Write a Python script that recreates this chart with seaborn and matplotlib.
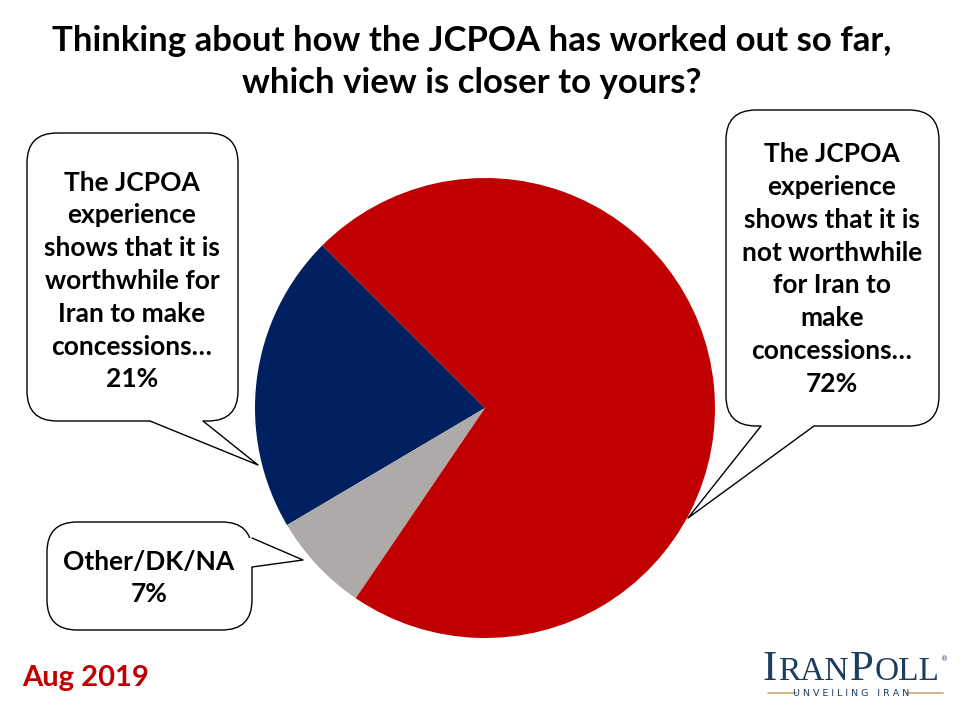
import matplotlib
matplotlib.use("Agg")
import matplotlib.pyplot as plt
import seaborn as sns
from matplotlib.patches import FancyBboxPatch, Polygon
from matplotlib.lines import Line2D

# ---- data ----
categories = ["worthwhile", "Other/DK/NA", "not worthwhile"]
values = [21, 7, 72]
colors = ["#002060", "#AEAAAA", "#C00000"]
label_worthwhile = "The JCPOA\nexperience\nshows that it is\nworthwhile for\nIran to make\nconcessions…\n21%"
label_not = "The JCPOA\nexperience\nshows that it is\nnot worthwhile\nfor Iran to\nmake\nconcessions…\n72%"
label_other = "Other/DK/NA\n7%"
title = "Thinking about how the JCPOA has worked out so far,\nwhich view is closer to yours?"
date_text = "Aug 2019"

sns.set_theme(style="white")
plt.rcParams['font.family'] = ['Lato', 'DejaVu Sans']

fig = plt.figure(figsize=(9.6, 7.2), dpi=100)
fig.patch.set_facecolor("white")

# pie axes: center (485,408) px, radius 230 px
cx, cy, r = 485, 408, 230
pax = fig.add_axes([(cx - r) / 960, (720 - (cy + r)) / 720, 2 * r / 960, 2 * r / 720])
pal = sns.color_palette(colors)
pax.pie(values, colors=pal, startangle=135, counterclock=True,
        wedgeprops=dict(edgecolor="none", linewidth=0))
pax.set_xlim(-1, 1)
pax.set_ylim(-1, 1)
pax.set_aspect("equal")
pax.axis("off")

# overlay in pixel coords (top-left origin)
ov = fig.add_axes([0, 0, 1, 1], zorder=5)
ov.set_xlim(0, 960)
ov.set_ylim(720, 0)
ov.axis("off")
ov.patch.set_alpha(0)


def callout(x0, y0, x1, y1, base1, tip, base2, inward, rad=30):
    box = FancyBboxPatch((x0, y0), x1 - x0, y1 - y0,
                         boxstyle=f"round,pad=0,rounding_size={rad}",
                         facecolor="white", edgecolor="black", linewidth=1.0, zorder=2)
    ov.add_patch(box)
    dx, dy = inward
    pts = [(base1[0] + dx, base1[1] + dy), base1, tip, base2, (base2[0] + dx, base2[1] + dy)]
    ov.add_patch(Polygon(pts, closed=True, facecolor="white", edgecolor="none", zorder=3))
    ov.add_line(Line2D([base1[0], tip[0], base2[0]], [base1[1], tip[1], base2[1]],
                       color="black", linewidth=1.0, zorder=4))


callout(27, 133, 238, 421, (150, 421), (258, 465), (203, 421), (0, -3))
callout(726, 110, 939, 426, (761, 426), (688, 518), (814, 426), (0, -3))
callout(47, 522, 252, 630, (252, 538), (303, 560), (252, 567), (-3, 0))

txt_kw = dict(ha="center", va="center", fontsize=19, fontweight="bold",
              color="black", linespacing=1.44, zorder=6)
ov.text(132, 281, label_worthwhile, **txt_kw)
ov.text(832, 269, label_not, **txt_kw)
ov.text(149, 578, label_other, **txt_kw)

# title
ov.text(472, 62, title, ha="center", va="center", fontsize=25, fontweight="bold",
        color="black", linespacing=1.35)

# date
ov.text(22, 678, date_text, ha="left", va="center", fontsize=21, fontweight="bold",
        color="#C00000")

# logo
logo_color = "#1B3D5E"
fig.canvas.draw()
rend = fig.canvas.get_renderer()
x = 763
base_y = 680
parts = [("I", 31), ("RAN", 24), ("P", 31), ("OLL", 24)]
for s, fs in parts:
    t = ov.text(x, base_y, s, ha="left", va="baseline", fontsize=fs,
                family="Liberation Serif", color=logo_color)
    w = t.get_window_extent(rend).width
    x += w + 1
ov.text(x + 1, 659, "®", ha="left", va="center", fontsize=5, color=logo_color,
        family="DejaVu Sans")
ov.text(851, 693, "U N V E I L I N G   I R A N", ha="center", va="center", fontsize=6.8,
        color=logo_color, family="DejaVu Sans")
ov.add_line(Line2D([768, 796], [693, 693], color="#C9A96B", linewidth=1.2))
ov.add_line(Line2D([907, 943], [693, 693], color="#C9A96B", linewidth=1.2))

fig.savefig("out.png", dpi=100, facecolor="white")
